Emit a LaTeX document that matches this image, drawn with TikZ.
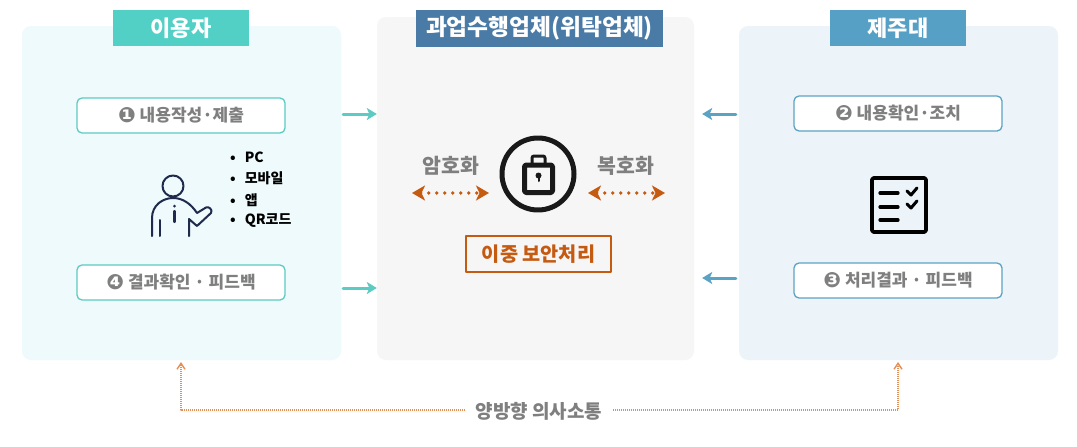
\documentclass[tikz,border=0pt]{standalone}
\usepackage{fontspec}
\setmainfont{Noto Sans CJK KR}
\newfontfamily\numfont{DejaVu Sans}
\usepackage{xcolor}
\usetikzlibrary{arrows.meta}
\definecolor{tealhead}{HTML}{52D0C6}
\definecolor{bluehead}{HTML}{4A7BA6}
\definecolor{skyhead}{HTML}{56A0C6}
\definecolor{tealpanel}{HTML}{EEFAFB}
\definecolor{greypanel}{HTML}{F7F6F7}
\definecolor{skypanel}{HTML}{ECF4FA}
\definecolor{tealline}{HTML}{5CCBC3}
\definecolor{skyline}{HTML}{5BA3C4}
\definecolor{rust}{HTML}{C55A11}
\definecolor{peach}{HTML}{E58F55}
\definecolor{labelgrey}{HTML}{7F7F7F}
\definecolor{navy}{HTML}{1F2A4D}
\newcommand{\stepnum}[1]{{\numfont\fontsize{21}{20}\selectfont\raisebox{-1pt}{#1}}}
\tikzset{
	panel/.style={rounded corners=9pt,inner sep=0pt},
	headbox/.style={text=white,font=\bfseries\fontsize{22}{26}\selectfont,inner sep=0pt},
	stepbox/.style={draw,fill=white,rounded corners=5pt,line width=1.3pt,inner sep=0pt,minimum width=208pt,minimum height=35pt,text=labelgrey,font=\bfseries\fontsize{17}{20}\selectfont},
	greylabel/.style={text=labelgrey,font=\bfseries\fontsize{20.5}{24}\selectfont,inner sep=0pt},
	flow/.style={line width=3pt,-{Stealth[length=10pt,width=12pt,inset=2.5pt]}},
	cipher/.style={rust,line width=3.8pt,dash pattern=on 0pt off 8pt,line cap=round,{Stealth[length=13pt,width=15pt,inset=3.5pt]}-{Stealth[length=13pt,width=15pt,inset=3.5pt]}},
	talk/.style={peach,line width=1.4pt,dash pattern=on 1pt off 1pt,line cap=butt,-{Straight Barb[length=6pt,width=8pt]}},
}
\begin{document}
\begin{tikzpicture}[x=1pt,y=-1pt,line cap=round,line join=round]
\useasboundingbox (0,0) rectangle (1077,447);
\fill[white] (0,0) rectangle (1077,447);
% panels
\node[panel,fill=tealpanel,minimum width=319pt,minimum height=334pt] (userpanel) at (181.5,193) {};
\node[panel,fill=greypanel,minimum width=317pt,minimum height=343pt] (agentpanel) at (535.5,188.5) {};
\node[panel,fill=skypanel,minimum width=319pt,minimum height=334pt] (jejupanel) at (898.5,193) {};
\node[headbox,fill=tealhead,minimum width=136pt,minimum height=36pt] (userhead) at (181,28) {이용자};
\node[headbox,fill=bluehead,minimum width=247pt,minimum height=37pt,font=\bfseries\fontsize{22.7}{26}\selectfont] (agenthead) at (539.5,28.5) {과업수행업체(위탁업체)};
\node[headbox,fill=skyhead,minimum width=136pt,minimum height=36pt] (jejuhead) at (898,28) {제주대};
% steps
\node[stepbox,draw=tealline] (write) at (181,115.5) {\stepnum{❶} 내용작성·제출};
\node[stepbox,draw=tealline] (result) at (181,282.5) {\stepnum{❹} 결과확인 · 피드백};
\node[stepbox,draw=skyline] (check) at (898,113.5) {\stepnum{❷} 내용확인·조치};
\node[stepbox,draw=skyline] (reply) at (898,280.5) {\stepnum{❸} 처리결과 · 피드백};
% flows between panels
\coordinate (levela) at (0,114);
\coordinate (levelb) at (0,288);
\coordinate (levelc) at (0,278);
\draw[flow,tealline] ([xshift=2pt]userpanel.east |- levela) -- (agentpanel.west |- levela);
\draw[flow,tealline] ([xshift=2pt]userpanel.east |- levelb) -- (agentpanel.west |- levelb);
\draw[flow,skyline] ([xshift=-3pt]jejupanel.west |- levela) -- ([xshift=8pt]agentpanel.east |- levela);
\draw[flow,skyline] ([xshift=-3pt]jejupanel.west |- levelc) -- ([xshift=8pt]agentpanel.east |- levelc);
% person
\draw[navy,line width=2pt] (173,186) circle [radius=10.5];
\draw[navy,line width=2pt] (152,236) -- (152,218) .. controls (152,205) and (163,198) .. (173,198)
	.. controls (183,198) and (191,204) .. (197,213) -- (206,207.5) .. controls (209,206) and (213,210) .. (211,213) -- (197,226) -- (189,219) -- (189,236);
\draw[navy,line width=2pt] (160,220) -- (160,236);
\draw[navy,line width=2.2pt] (174.5,211) -- (174.5,222);
\fill[navy] (174.5,206) circle [radius=1.5];
\foreach \y/\t [count=\i] in {
157/PC,
178/모바일,
200/앱,
221/QR코드
} {
	\node[anchor=west,inner sep=0pt,font=\bfseries\fontsize{14}{16}\selectfont] (device\i) at (230,\y) {•\hspace{9pt}\t};
}
% lock
\draw[black!90,line width=5pt] (538,174) circle [radius=36];
\draw[black!90,line width=5pt,rounded corners=1.5pt] (524.5,165) rectangle (552.5,192.5);
\draw[black!90,line width=3pt,rounded corners=2pt] (532,163) -- (532,156) -- (545,156) -- (545,163);
\fill[black!90] (538.5,175.5) circle [radius=3];
\draw[black!90,line width=2pt] (538.5,176) -- (538.5,181);
% cipher
\node[greylabel] (encrypt) at (451,166) {암호화};
\node[greylabel] (decrypt) at (626,166) {복호화};
\coordinate (encl) at (412,193);
\coordinate (encr) at (489,193);
\coordinate (decl) at (588,193);
\coordinate (decr) at (665,193);
\draw[cipher] (encl) -- (encr);
\draw[cipher] (decl) -- (decr);
\node[draw=rust,line width=1.3pt,text=rust,font=\bfseries\fontsize{19.7}{23}\selectfont,inner sep=0pt,minimum width=145pt,minimum height=36pt] (secure) at (538.5,254) {이중 보안처리};
% checklist
\draw[line width=3.6pt,rounded corners=1.5pt] (872,178) rectangle (926,232);
\foreach \y in {193,207,220} {
	\draw[line width=3.2pt] (880,\y) -- (898,\y);
}
\foreach \y in {191,204} {
	\draw[line width=3pt,shift={(0,\y)}] (907,0) -- (911,4) -- (917,-3);
}
% two way
\node[greylabel,fill=white,font=\bfseries\fontsize{19}{22}\selectfont,inner xsep=10pt,inner ysep=2pt] (comm) at (539,411) {양방향 의사소통};
\coordinate (commleft) at (181,362);
\coordinate (commright) at (898,362);
\draw[talk] (comm.west |- 0,410) -| (commleft);
\draw[talk] (comm.east |- 0,410) -| (commright);
\end{tikzpicture}
\end{document}
